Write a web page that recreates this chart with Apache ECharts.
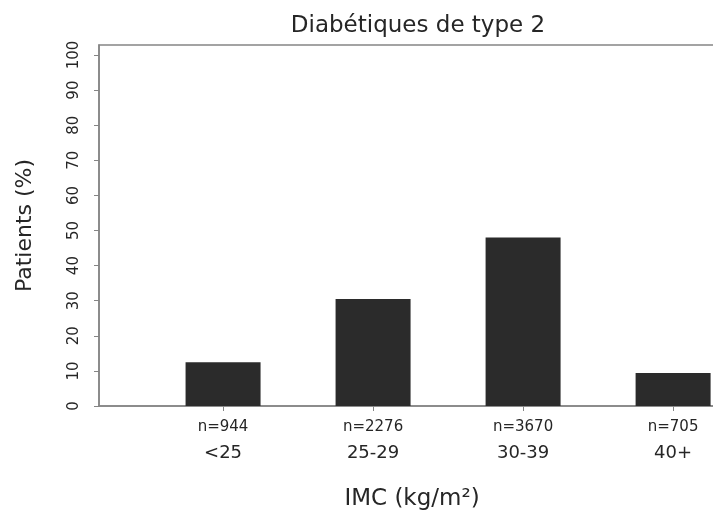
<!DOCTYPE html>
<html>
<head>
<meta charset="utf-8">
<script src="https://cdn.jsdelivr.net/npm/echarts@6/dist/echarts.min.js"></script>
<style>
html,body{margin:0;padding:0;background:#fff;}
#c{width:713px;height:516px;}
</style>
</head>
<body>
<div id="c"></div>
<script>
const categories = ['<25', '25-29', '30-39', '40+'];
const counts = [944, 2276, 3670, 705];
const percents = [12.5, 30.5, 48, 9.4];
const yTicks = [0, 10, 20, 30, 40, 50, 60, 70, 80, 90, 100];

const FONT = '"DejaVu Sans", sans-serif';
const TXT = '#262626';
const AX = '#858585';

const chart = echarts.init(document.getElementById('c'), null, {renderer: 'canvas'});
chart.setOption({
  animation: false,
  backgroundColor: '#fff',
  title: {
    text: 'Diabétiques de type 2',
    left: 413, top: 10, textAlign: 'center',
    textStyle: {fontFamily: FONT, fontSize: 23, fontWeight: 'normal', color: TXT}
  },
  grid: {
    left: 99, top: 45, right: -12, bottom: 110,
    outerBoundsMode: 'none',
    containLabel: false,
    show: true, borderColor: AX, borderWidth: 1.5, backgroundColor: 'transparent'
  },
  xAxis: {
    type: 'value',
    min: 0.173, max: 4.346,
    splitLine: {show: false},
    axisLine: {show: true, lineStyle: {color: AX, width: 1.5}},
    axisTick: {show: true, customValues: categories.map((c, i) => i + 1), length: 5, lineStyle: {color: AX}},
    axisLabel: {
      customValues: categories.map((c, i) => i + 1),
      margin: 9,
      formatter: v => '{n|n=' + counts[v - 1] + '}\n{c|' + categories[v - 1] + '}',
      rich: {
        n: {fontFamily: FONT, fontSize: 15, lineHeight: 24, color: TXT},
        c: {fontFamily: FONT, fontSize: 18, lineHeight: 28, color: TXT}
      }
    },
    name: 'IMC (kg/m²)',
    nameLocation: 'middle',
    nameGap: 82,
    nameTextStyle: {fontFamily: FONT, fontSize: 23, color: TXT}
  },
  yAxis: {
    type: 'value',
    min: 0, max: 102.85,
    splitLine: {show: false},
    axisLine: {show: true, lineStyle: {color: AX, width: 1.5}},
    axisTick: {show: true, customValues: yTicks, length: 5, lineStyle: {color: AX}},
    axisLabel: {
      customValues: yTicks,
      rotate: 90,
      margin: 17,
      fontFamily: FONT, fontSize: 15, color: TXT
    },
    name: 'Patients (%)',
    nameLocation: 'middle',
    nameGap: 63,
    nameTextStyle: {fontFamily: FONT, fontSize: 22, color: TXT}
  },
  series: [{
    type: 'bar',
    barWidth: 75,
    itemStyle: {color: '#2b2b2b'},
    data: percents.map((p, i) => [i + 1, p])
  }]
});
</script>
</body>
</html>
